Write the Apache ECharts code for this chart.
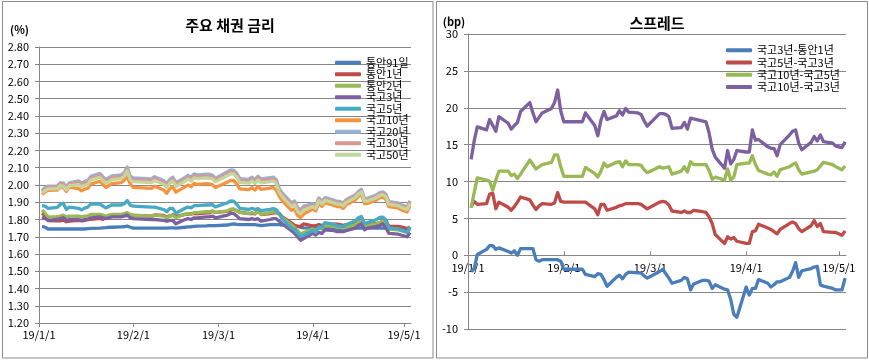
<!DOCTYPE html>
<html><head><meta charset="utf-8">
<script src="https://cdn.jsdelivr.net/npm/echarts@6/dist/echarts.min.js"></script>
<style>html,body{margin:0;padding:0;background:#fff}#c{width:869px;height:360px}</style>
</head><body><div id="c"></div>
<script>
// ---- categories (business days) ----
const dates = [
 '2019-01-02','2019-01-03','2019-01-04','2019-01-07','2019-01-08','2019-01-09','2019-01-10','2019-01-11','2019-01-14','2019-01-15','2019-01-16','2019-01-17','2019-01-18','2019-01-21','2019-01-22','2019-01-23','2019-01-24','2019-01-25','2019-01-28','2019-01-29','2019-01-30','2019-01-31',
 '2019-02-01','2019-02-07','2019-02-08','2019-02-11','2019-02-12','2019-02-13','2019-02-14','2019-02-15','2019-02-18','2019-02-19','2019-02-20','2019-02-21','2019-02-22','2019-02-25','2019-02-26','2019-02-27','2019-02-28',
 '2019-03-04','2019-03-05','2019-03-06','2019-03-07','2019-03-08','2019-03-11','2019-03-12','2019-03-13','2019-03-14','2019-03-15','2019-03-18','2019-03-19','2019-03-20','2019-03-21','2019-03-22','2019-03-25','2019-03-26','2019-03-27','2019-03-28','2019-03-29',
 '2019-04-01','2019-04-02','2019-04-03','2019-04-04','2019-04-05','2019-04-08','2019-04-09','2019-04-10','2019-04-11','2019-04-12','2019-04-15','2019-04-16','2019-04-17','2019-04-18','2019-04-19','2019-04-22','2019-04-23','2019-04-24','2019-04-25','2019-04-26','2019-04-29','2019-04-30',
 '2019-05-02','2019-05-03'];
const xTickDates = ['2019-01-01','2019-02-01','2019-03-01','2019-04-01','2019-05-01'];
const xTickLabels = ['19/1/1','19/2/1','19/3/1','19/4/1','19/5/1'];
const leftYTicks = [1.2,1.3,1.4,1.5,1.6,1.7,1.8,1.9,2.0,2.1,2.2,2.3,2.4,2.5,2.6,2.7,2.8];
const rightYTicks = [-10,-5,0,5,10,15,20,25,30];

// ---- left chart series (%) ----
const msb91d = [1.76,1.755,1.745,1.745,1.745,1.745,1.745,1.745,1.745,1.745,1.745,1.747,1.748,1.75,1.752,1.753,1.755,1.755,1.757,1.758,1.762,1.755,
 1.75,1.75,1.75,1.75,1.75,1.752,1.752,1.75,1.755,1.757,1.758,1.76,1.762,1.763,1.765,1.765,1.765,
 1.768,1.772,1.775,1.772,1.77,1.77,1.77,1.77,1.768,1.765,1.77,1.77,1.77,1.77,1.768,1.765,1.762,1.76,1.755,1.752,
 1.75,1.75,1.75,1.75,1.75,1.75,1.748,1.748,1.748,1.748,1.75,1.75,1.75,1.75,1.75,1.75,1.75,1.75,1.748,1.745,1.745,1.745,
 1.745,1.745];
const msb1y = [1.837,1.823,1.794,1.792,1.792,1.797,1.787,1.790,1.795,1.792,1.794,1.800,1.801,1.806,1.801,1.811,1.818,1.821,1.821,1.826,1.831,1.818,
 1.824,1.819,1.826,1.824,1.815,1.821,1.828,1.817,1.830,1.832,1.832,1.836,1.833,1.839,1.839,1.848,1.841,
 1.847,1.854,1.860,1.851,1.843,1.834,1.835,1.832,1.852,1.829,1.834,1.839,1.840,1.835,1.815,1.781,1.767,1.760,1.760,1.774,
 1.763,1.764,1.770,1.765,1.773,1.773,1.773,1.770,1.766,1.771,1.780,1.787,1.785,1.770,1.771,1.778,1.781,1.790,1.795,1.762,1.760,1.757,
 1.747,1.756];
const msb2y = [1.855,1.835,1.815,1.815,1.82,1.825,1.815,1.82,1.82,1.815,1.82,1.82,1.83,1.83,1.825,1.82,1.825,1.83,1.83,1.835,1.84,1.83,
 1.825,1.82,1.825,1.82,1.81,1.82,1.825,1.81,1.83,1.835,1.83,1.84,1.84,1.845,1.845,1.85,1.84,
 1.85,1.86,1.86,1.85,1.84,1.835,1.84,1.835,1.845,1.83,1.84,1.845,1.845,1.83,1.81,1.77,1.755,1.735,1.715,1.725,
 1.745,1.74,1.75,1.745,1.765,1.76,1.755,1.755,1.75,1.755,1.77,1.785,1.79,1.76,1.765,1.775,1.78,1.79,1.775,1.745,1.74,1.735,
 1.725,1.745];
const ktb3y = [1.815,1.805,1.795,1.80,1.805,1.81,1.795,1.80,1.80,1.795,1.80,1.80,1.81,1.815,1.81,1.805,1.81,1.815,1.815,1.82,1.825,1.81,
 1.805,1.80,1.80,1.795,1.79,1.795,1.795,1.775,1.80,1.805,1.80,1.81,1.81,1.815,1.815,1.82,1.81,
 1.825,1.835,1.835,1.82,1.805,1.80,1.805,1.80,1.805,1.79,1.80,1.805,1.805,1.79,1.775,1.735,1.72,1.70,1.68,1.69,
 1.72,1.71,1.725,1.72,1.74,1.735,1.73,1.73,1.73,1.735,1.75,1.765,1.775,1.74,1.75,1.76,1.765,1.775,1.755,1.72,1.715,1.71,
 1.70,1.725];
const ktb5y = [1.881,1.878,1.864,1.870,1.888,1.894,1.858,1.872,1.865,1.856,1.866,1.872,1.889,1.890,1.878,1.867,1.877,1.885,1.884,1.891,1.910,1.883,
 1.877,1.872,1.872,1.858,1.845,1.864,1.864,1.836,1.865,1.872,1.868,1.880,1.880,1.885,1.884,1.886,1.873,
 1.897,1.908,1.907,1.888,1.865,1.858,1.865,1.858,1.863,1.851,1.859,1.863,1.857,1.833,1.803,1.751,1.745,1.722,1.704,1.709,
 1.736,1.726,1.757,1.753,1.782,1.772,1.765,1.762,1.759,1.770,1.793,1.810,1.818,1.776,1.782,1.800,1.812,1.814,1.798,1.752,1.746,1.741,
 1.727,1.758];
const ktb10y = [1.945,1.960,1.969,1.970,1.989,1.986,1.963,1.988,1.979,1.966,1.976,1.980,2.005,2.022,2.003,1.986,1.997,2.008,2.014,2.027,2.049,2.006,
 1.986,1.981,1.993,1.971,1.952,1.978,1.990,1.959,1.989,2.001,1.990,2.009,2.004,2.008,2.006,2.002,1.985,
 2.017,2.027,2.026,2.008,1.977,1.973,1.985,1.971,1.991,1.975,1.982,1.986,1.971,1.934,1.908,1.853,1.862,1.824,1.810,1.832,
 1.860,1.850,1.895,1.876,1.897,1.882,1.875,1.875,1.865,1.885,1.913,1.933,1.945,1.892,1.893,1.913,1.926,1.930,1.918,1.874,1.867,1.857,
 1.843,1.879];
const ktb20y = [1.970,1.985,1.994,1.995,2.014,2.011,1.988,2.013,2.024,2.011,2.021,2.025,2.050,2.067,2.048,2.031,2.042,2.053,2.059,2.072,2.104,2.051,
 2.041,2.036,2.048,2.026,2.007,2.033,2.045,2.014,2.044,2.056,2.045,2.064,2.059,2.063,2.061,2.057,2.040,
 2.077,2.087,2.086,2.068,2.037,2.033,2.045,2.031,2.051,2.035,2.042,2.046,2.031,1.979,1.953,1.898,1.907,1.869,1.855,1.877,
 1.890,1.880,1.925,1.906,1.927,1.912,1.905,1.905,1.895,1.915,1.943,1.963,1.975,1.922,1.923,1.943,1.956,1.960,1.948,1.904,1.897,1.887,
 1.873,1.909];
const ktb30y = [1.962,1.978,1.987,1.988,2.007,2.004,1.981,2.006,2.014,2.001,2.011,2.015,2.040,2.057,2.038,2.021,2.032,2.043,2.049,2.062,2.093,2.041,
 2.031,2.026,2.038,2.016,1.997,2.023,2.035,2.004,2.034,2.046,2.035,2.054,2.049,2.053,2.051,2.047,2.030,
 2.067,2.077,2.076,2.058,2.027,2.023,2.035,2.021,2.041,2.025,2.032,2.036,2.021,1.969,1.943,1.888,1.897,1.859,1.845,1.867,
 1.882,1.872,1.917,1.898,1.919,1.904,1.897,1.897,1.887,1.907,1.935,1.955,1.967,1.914,1.915,1.935,1.948,1.952,1.940,1.896,1.889,1.879,
 1.865,1.901];
const ktb50y = [1.953,1.968,1.977,1.978,1.997,1.994,1.971,1.996,2.002,1.989,1.999,2.003,2.028,2.045,2.026,2.009,2.020,2.031,2.037,2.050,2.082,2.029,
 2.019,2.014,2.026,2.004,1.985,2.011,2.023,1.992,2.022,2.034,2.023,2.042,2.037,2.041,2.039,2.035,2.018,
 2.055,2.065,2.064,2.046,2.015,2.011,2.023,2.009,2.029,2.013,2.020,2.024,2.009,1.957,1.931,1.876,1.885,1.847,1.833,1.855,
 1.874,1.864,1.909,1.890,1.911,1.896,1.889,1.889,1.879,1.899,1.927,1.947,1.959,1.906,1.907,1.927,1.940,1.944,1.932,1.888,1.881,1.871,
 1.857,1.893];

// ---- right chart series (bp) ----
const sp3y1y = [-2.2,-1.8,0.1,0.8,1.3,1.3,0.8,1.0,0.5,0.3,0.6,0.0,0.9,0.9,0.9,-0.6,-0.8,-0.6,-0.6,-0.6,-0.6,-0.8,
 -1.9,-1.9,-2.6,-2.9,-2.5,-2.6,-3.3,-4.2,-3.0,-2.7,-3.2,-2.6,-2.3,-2.4,-2.4,-2.8,-3.1,
 -2.2,-1.9,-2.5,-3.1,-3.8,-3.4,-3.0,-3.2,-4.7,-3.9,-3.4,-3.4,-3.5,-4.5,-4.0,-4.6,-4.7,-6.0,-8.0,-8.4,
 -4.3,-5.4,-4.5,-4.5,-3.3,-3.8,-4.3,-4.0,-3.6,-3.6,-3.0,-2.2,-1.0,-3.0,-2.1,-1.8,-1.6,-1.5,-4.0,-4.2,-4.5,-4.7,
 -4.7,-3.1];
const sp5y3y = [6.6,7.3,6.9,7.0,8.3,8.4,6.3,7.2,6.5,6.1,6.6,7.2,7.9,7.5,6.8,6.2,6.7,7.0,6.9,7.1,8.5,7.3,
 7.2,7.2,7.2,6.3,5.5,6.9,6.9,6.1,6.5,6.7,6.8,7.0,7.0,7.0,6.9,6.6,6.3,
 7.2,7.3,7.2,6.8,6.0,5.8,6.0,5.8,5.8,6.1,5.9,5.8,5.2,4.3,2.8,1.6,2.5,2.2,2.4,1.9,
 1.6,1.6,3.2,3.3,4.2,3.7,3.5,3.2,2.9,3.5,4.3,4.5,4.3,3.6,3.2,4.0,4.7,3.9,4.3,3.2,3.1,3.1,
 2.7,3.3];
const sp10y5y = [6.4,8.5,10.5,10.2,10.0,8.8,10.2,11.4,11.4,10.8,11.0,10.4,11.0,12.9,12.3,11.7,12.0,12.3,12.6,13.6,13.6,12.0,
 10.7,10.7,11.9,11.1,10.6,11.4,12.5,12.0,12.6,12.7,12.0,12.8,12.3,12.3,12.2,11.6,11.2,
 12.0,11.8,11.9,12.0,11.0,11.4,12.0,11.3,12.7,12.3,12.3,12.3,11.5,10.3,10.6,10.2,11.7,10.2,10.6,12.3,
 12.5,12.5,13.5,12.3,11.5,11.0,10.9,11.3,10.7,11.6,12.0,12.3,12.5,11.6,11.0,11.3,11.4,11.6,12.1,12.6,12.3,12.0,
 11.6,12.1];
const sp10y3y = [13.0,15.5,17.4,17.0,18.4,17.6,16.8,18.8,17.9,17.1,17.6,18.0,19.5,20.7,19.3,18.1,18.7,19.3,19.9,20.7,22.4,19.6,
 18.1,18.1,19.3,17.6,16.2,18.3,19.5,18.4,18.9,19.6,19.0,19.9,19.4,19.3,19.1,18.2,17.5,
 19.2,19.2,19.1,18.8,17.2,17.3,18.0,17.1,18.6,18.5,18.2,18.1,16.6,14.4,13.3,11.8,14.2,12.4,13.0,14.2,
 14.0,14.0,17.0,15.6,15.7,14.7,14.5,14.5,13.5,15.0,16.3,16.8,17.0,15.2,14.3,15.3,16.1,15.5,16.3,15.4,15.2,14.8,
 14.6,15.4];

const leftNames = ['통안91일','통안1년','통안2년','국고3년','국고5년','국고10년','국고20년','국고30년','국고50년'];
const leftData = [msb91d, msb1y, msb2y, ktb3y, ktb5y, ktb10y, ktb20y, ktb30y, ktb50y];
const leftColors = ['#4A7EBB','#BE4B48','#98B954','#7D60A0','#46AAC5','#F69240','#95B3D7','#D99694','#C3D69B'];
const rightNames = ['국고3년-통안1년','국고5년-국고3년','국고10년-국고5년','국고10년-국고3년'];
const rightData = [sp3y1y, sp5y3y, sp10y5y, sp10y3y];
const rightColors = ['#4A7EBB','#BE4B48','#98B954','#7D60A0'];

// ---- build ----
const FONT = '"Noto Sans CJK KR", sans-serif';
const dayOf = s => (Date.UTC(+s.slice(0,4), +s.slice(5,7)-1, +s.slice(8,10)) - Date.UTC(2019,0,1)) / 864e5;
const days = dates.map(dayOf);
const tickDays = xTickDates.map(dayOf);
const pts = arr => arr.map((v, i) => [days[i], v]);
const GRIDC = '#868686';

// right grid geometry (used to move the x axis onto the zero line)
const RG = { left: 468, top: 34, width: 378, height: 295 };
const rMin = rightYTicks[0], rMax = rightYTicks[rightYTicks.length-1];
const zeroOffset = -RG.height * (0 - rMin) / (rMax - rMin);

function xAxis(gi, inside, offset, margin) {
  return {
    type: 'value', gridIndex: gi, min: 0, max: 122.3, position: 'bottom', offset: offset,
    splitLine: { show: false },
    axisLine: { show: true, onZero: false, lineStyle: { color: GRIDC, width: 1 } },
    axisTick: { show: true, inside: inside, length: 4, customValues: tickDays, lineStyle: { color: GRIDC } },
    axisLabel: { customValues: tickDays, margin: margin, fontSize: 11, color: '#000', fontFamily: FONT,
      formatter: v => xTickLabels[tickDays.indexOf(v)] || '' }
  };
}
function yAxis(gi, min, max, interval, fmt) {
  return {
    type: 'value', gridIndex: gi, min: min, max: max, interval: interval,
    axisLine: { show: true, lineStyle: { color: GRIDC, width: 1 } },
    axisTick: { show: true, length: 4, lineStyle: { color: GRIDC } },
    splitLine: { show: true, lineStyle: { color: GRIDC, width: 1 } },
    axisLabel: { margin: 10, fontSize: 11, color: '#000', fontFamily: FONT, formatter: fmt }
  };
}

const series = [];
leftNames.forEach((n, i) => series.push({
  name: n, type: 'line', xAxisIndex: 0, yAxisIndex: 0, data: pts(leftData[i]),
  showSymbol: false, symbol: 'none', color: leftColors[i],
  lineStyle: { width: 3.3, color: leftColors[i], join: 'round' }
}));
rightNames.forEach((n, i) => series.push({
  name: n, type: 'line', xAxisIndex: 1, yAxisIndex: 1, data: pts(rightData[i]),
  showSymbol: false, symbol: 'none', color: rightColors[i],
  lineStyle: { width: 3.3, color: rightColors[i], join: 'round' }
}));

const chart = echarts.init(document.getElementById('c'), null, { renderer: 'canvas' });
chart.setOption({
  animation: false,
  backgroundColor: '#fff',
  textStyle: { fontFamily: FONT },
  title: [
    { text: '주요 채권 금리', left: 225, top: 13, textAlign: 'center',
      textStyle: { fontSize: 15, fontWeight: 'bold', color: '#000', fontFamily: FONT } },
    { text: '스프레드', left: 652, top: 11, textAlign: 'center',
      textStyle: { fontSize: 15, fontWeight: 'bold', color: '#000', fontFamily: FONT } }
  ],
  grid: [
    { left: 39, top: 47, width: 372, height: 276 },
    RG
  ],
  xAxis: [ xAxis(0, false, 0, 6), xAxis(1, true, zeroOffset, 7) ],
  yAxis: [
    yAxis(0, leftYTicks[0], leftYTicks[leftYTicks.length-1], 0.1, v => v.toFixed(2)),
    yAxis(1, rMin, rMax, 5, v => String(v))
  ],
  legend: [
    { data: leftNames, orient: 'vertical', left: 330, top: 52, itemWidth: 26, itemHeight: 4, itemGap: 0,
      icon: 'roundRect', selectedMode: false,
      textStyle: { fontSize: 11, color: '#000', lineHeight: 11.5, fontFamily: FONT } },
    { data: rightNames, orient: 'vertical', left: 721, top: 39, itemWidth: 26, itemHeight: 4, itemGap: 0,
      icon: 'roundRect', selectedMode: false,
      textStyle: { fontSize: 11, color: '#000', lineHeight: 12.3, fontFamily: FONT } }
  ],
  graphic: [
    { type: 'rect', shape: { x: 2.5, y: 1.5, width: 430.5, height: 356.5 },
      style: { fill: null, stroke: '#8c8c8c', lineWidth: 1 }, silent: true },
    { type: 'rect', shape: { x: 436.5, y: 1.5, width: 431, height: 356.5 },
      style: { fill: null, stroke: '#8c8c8c', lineWidth: 1 }, silent: true },
    { type: 'text', style: { text: '(%)', x: 19.5, y: 30, align: 'center', verticalAlign: 'middle',
      font: 'bold 11px "Noto Sans CJK KR", sans-serif', fill: '#000' } },
    { type: 'text', style: { text: '(bp)', x: 454, y: 22, align: 'center', verticalAlign: 'middle',
      font: 'bold 11px "Noto Sans CJK KR", sans-serif', fill: '#000' } }
  ],
  series: series
});
</script>
</body></html>
